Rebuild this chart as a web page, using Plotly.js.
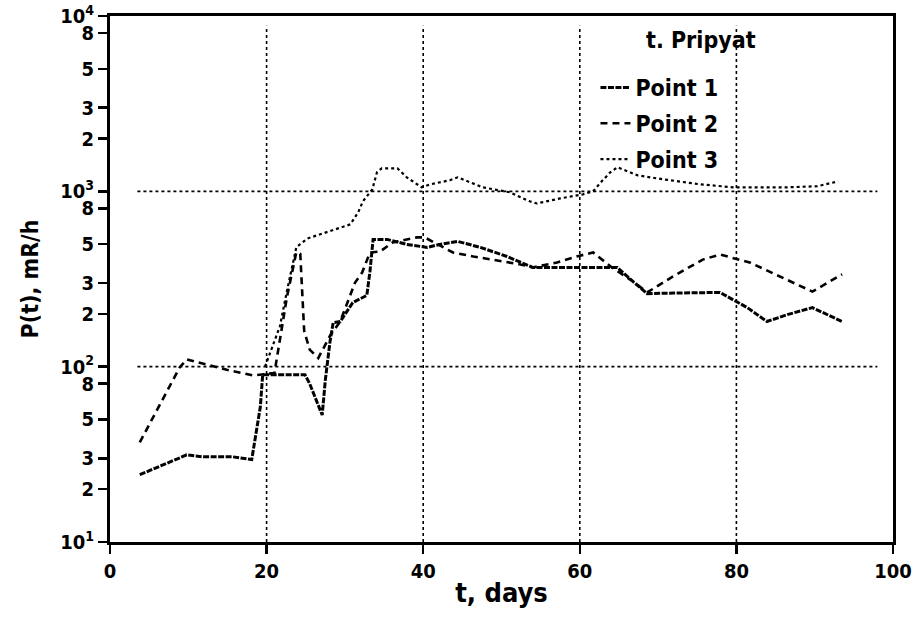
<!DOCTYPE html>
<html>
<head>
<meta charset="utf-8">
<script src="https://cdn.plot.ly/plotly-3.0.1.min.js"></script>
<style>html,body{margin:0;padding:0;background:#fff;}#chart{width:917px;height:617px;}</style>
</head>
<body>
<div id="chart"></div>
<script>
// Point 1
const p1Days = [3.8, 9.8, 11.9, 15.7, 18.1, 19.2, 19.5, 24.9, 25.5, 27.1, 27.5, 28.1, 28.5, 29.4, 31.0, 32.8, 33.2, 33.6, 35.4, 37.9, 40.5, 42.1, 44.4, 47.3, 50.7, 54.0, 60.0, 64.8, 66.8, 68.6, 72.0, 77.9, 81.4, 83.9, 86.5, 89.7, 93.5];
const p1Vals = [24.2, 31.4, 30.6, 30.6, 29.5, 59, 90, 90, 80, 53, 84, 139, 178, 181, 232, 255, 349, 532, 532, 498, 479, 498, 518, 479, 425, 368, 368, 368, 306, 261, 263, 265, 217, 181, 198, 217, 181];
// Point 2
const p2Days = [3.8, 8.9, 9.8, 12.4, 14.9, 18.3, 21.0, 22.6, 23.8, 24.3, 24.8, 25.5, 26.6, 28.1, 29.4, 31.3, 32.2, 33.2, 34.5, 36.1, 39.2, 40.2, 43.8, 46.4, 49.4, 52.4, 54.0, 57.1, 59.6, 61.7, 64.1, 66.8, 68.6, 71.9, 75.7, 77.9, 81.7, 85.6, 89.7, 93.5];
const p2Vals = [37, 99, 110, 103, 96, 89, 92, 250, 450, 440, 160, 125, 112, 150, 181, 302, 344, 448, 454, 511, 546, 546, 448, 425, 404, 383, 368, 393, 425, 448, 368, 306, 265, 327, 408, 436, 393, 327, 268, 336];
// Point 3
const p3Days = [19.8, 20.7, 21.7, 22.6, 23.4, 23.8, 25.2, 27.7, 30.7, 31.7, 32.3, 33.5, 34.1, 34.7, 36.7, 37.9, 39.2, 39.8, 40.9, 42.1, 43.4, 44.4, 47.6, 51.1, 53.6, 54.5, 57.5, 60.4, 61.7, 62.8, 63.9, 64.8, 66.4, 67.4, 70.6, 75.4, 79.6, 86.5, 90.3, 93.0];
const p3Vals = [100, 130, 170, 270, 400, 480, 538, 583, 648, 760, 877, 1026, 1285, 1353, 1353, 1202, 1096, 1054, 1096, 1125, 1156, 1202, 1054, 987, 877, 853, 911, 961, 1000, 1140, 1285, 1372, 1285, 1233, 1172, 1096, 1054, 1054, 1069, 1140];

const seriesNames = ["Point 1", "Point 2", "Point 3"];
const legendTitle = "t. Pripyat";
const xTitle = "t, days";
const yTitle = "P(t), mR/h";
const xTicks = [0, 20, 40, 60, 80, 100];
const yTickVals = [10, 20, 30, 50, 80, 100, 200, 300, 500, 800, 1000, 2000, 3000, 5000, 8000, 10000];
const yTickText = ["10<sup>1</sup>", "2", "3", "5", "8", "10<sup>2</sup>", "2", "3", "5", "8", "10<sup>3</sup>", "2", "3", "5", "8", "10<sup>4</sup>"];
const gridX = [20, 40, 60, 80];
const gridY = [100, 1000];

const FONT = "DejaVu Sans Condensed, Liberation Sans Narrow, Arial Narrow, sans-serif";

const traces = [
  {x: p1Days, y: p1Vals, name: seriesNames[0], mode: "lines", legendgroup: "a",
   line: {color: "#000", width: 3, dash: "6px,1.5px"}},
  {x: p2Days, y: p2Vals, name: seriesNames[1], mode: "lines", legendgroup: "b",
   line: {color: "#000", width: 2.6, dash: "7px,5px"}},
  {x: p3Days, y: p3Vals, name: seriesNames[2], mode: "lines", legendgroup: "c",
   line: {color: "#000", width: 2.2, dash: "dot"}}
];

const shapes = [];
gridX.forEach(g => shapes.push({type: "line", xref: "x", yref: "y", x0: g, x1: g, y0: 10, y1: 8800,
  line: {color: "#000", width: 1.6, dash: "dot"}, layer: "below"}));
gridY.forEach(g => shapes.push({type: "line", xref: "x", yref: "y", x0: 3.5, x1: 98, y0: g, y1: g,
  line: {color: "#000", width: 1.6, dash: "dot"}, layer: "below"}));

const layout = {
  width: 917, height: 617,
  margin: {l: 110, r: 24, t: 16, b: 75},
  paper_bgcolor: "#fff", plot_bgcolor: "#fff",
  font: {family: FONT, color: "#000", size: 20, weight: "bold"},
  showlegend: true,
  legend: {x: 0.62, y: 0.905, xanchor: "left", yanchor: "top", bgcolor: "rgba(0,0,0,0)",
    font: {family: FONT, size: 23, weight: "bold", color: "#000"}, traceorder: "grouped", tracegroupgap: 3},
  xaxis: {range: [0, 100], tickvals: xTicks, ticks: "outside", ticklen: 9, tickwidth: 2.5, tickcolor: "#000",
    showline: true, linewidth: 3, linecolor: "#000", mirror: true, showgrid: false, zeroline: false,
    tickfont: {family: FONT, size: 20, weight: "bold"},
    title: {text: xTitle, font: {family: FONT, size: 27, weight: "bold"}, standoff: 2}},
  yaxis: {type: "log", range: [1, 4], tickvals: yTickVals, ticktext: yTickText, ticks: "outside", ticklen: 9,
    tickwidth: 2.5, tickcolor: "#000", showline: true, linewidth: 3, linecolor: "#000", mirror: true,
    showgrid: false, zeroline: false, tickfont: {family: FONT, size: 20, weight: "bold"},
    title: {text: yTitle, font: {family: FONT, size: 23, weight: "bold"}, standoff: 16}},
  shapes: shapes,
  annotations: [{xref: "paper", yref: "paper", x: 0.682, y: 0.954, xanchor: "left", yanchor: "middle",
    text: legendTitle, showarrow: false, font: {family: FONT, size: 23, weight: "bold", color: "#000"}}]
};

Plotly.newPlot("chart", traces, layout, {displayModeBar: false, staticPlot: true});
</script>
</body>
</html>
